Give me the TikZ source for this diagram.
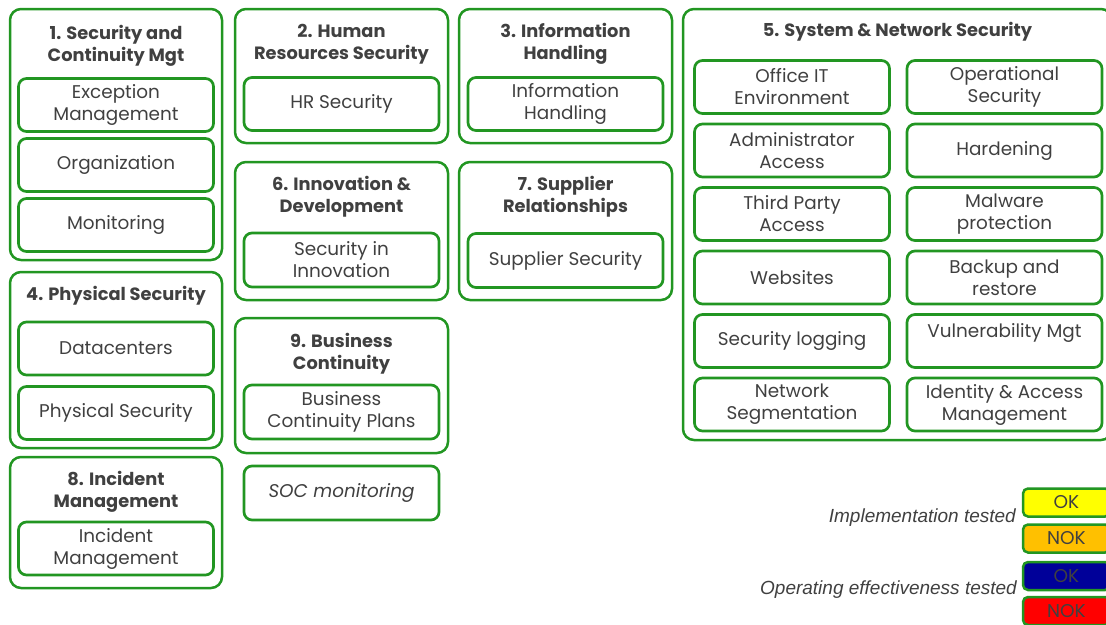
\documentclass[tikz,border=0pt]{standalone}
\usepackage{fontspec}
\setmainfont{Poppins}
\newfontfamily\legendfont{Liberation Sans}
\definecolor{boxgreen}{RGB}{34,150,34}
\definecolor{txtgray}{RGB}{64,64,64}
\definecolor{okyellow}{RGB}{255,255,0}
\definecolor{nokorange}{RGB}{255,192,0}
\definecolor{okblue}{RGB}{0,0,153}
\definecolor{nokred}{RGB}{255,0,0}
\begin{document}
\begin{tikzpicture}[
    x=1pt, y=-1pt,
    group/.style={rectangle, rounded corners=11pt, draw=boxgreen, line width=2.5pt},
    title/.style={align=center, font=\fontsize{17.8}{22}\selectfont\bfseries, text=txtgray, inner sep=0pt},
    item/.style={rectangle, rounded corners=8pt, draw=boxgreen, line width=2.7pt, minimum width=195pt, minimum height=53pt, align=center, font=\fontsize{18.4}{22}\selectfont, text=txtgray, inner sep=0pt},
    legendbox/.style={rectangle, rounded corners=5pt, draw=boxgreen, line width=2.5pt, minimum width=87pt, minimum height=28pt, font=\fontsize{18.5}{20}\selectfont, text=txtgray, inner sep=0pt},
    legendtext/.style={anchor=east, font=\legendfont\itshape\fontsize{19}{20}\selectfont, text=txtgray, inner sep=0pt}
]
    \useasboundingbox (0,0) rectangle (1106,624);

    % 1. Security and Continuity Mgt
    \node[group, minimum width=212pt, minimum height=251pt] (secmgt) at (116,134.5) {};
    \node[title] (secmgttitle) at (116,46) {1. Security and\\Continuity Mgt};
    \node[item] (exception) at (116,105) {Exception\\Management};
    \node[item] (organization) at (116,165) {Organization};
    \node[item] (monitoring) at (116,225) {Monitoring};

    % 2. Human Resources Security
    \node[group, minimum width=213pt, minimum height=134pt] (hrsec) at (341.5,76) {};
    \node[title] (hrsectitle) at (341.5,44) {2. Human\\Resources Security};
    \node[item] (hr) at (341.5,104) {HR Security};

    % 3. Information Handling
    \node[group, minimum width=213pt, minimum height=134pt] (info) at (565.5,76) {};
    \node[title] (infotitle) at (565.5,44) {3. Information\\Handling};
    \node[item] (infohandling) at (565.5,104) {Information\\Handling};

    % 6. Innovation & Development
    \node[group, minimum width=213pt, minimum height=138pt] (innov) at (341.5,231) {};
    \node[title] (innovtitle) at (341.5,197) {6. Innovation \&\\Development};
    \node[item, minimum height=54pt] (secinnov) at (341.5,260) {Security in\\Innovation};

    % 7. Supplier Relationships
    \node[group, minimum width=213pt, minimum height=138pt] (supplier) at (565.5,231) {};
    \node[title] (suppliertitle) at (565.5,197) {7. Supplier\\Relationships};
    \node[item, minimum height=54pt] (supsec) at (565.5,260.5) {Supplier Security};

    % 4. Physical Security
    \node[group, minimum width=212pt, minimum height=176pt] (phys) at (116,360) {};
    \node[title] (physttitle) at (116,296) {4. Physical Security};
    \node[item] (datacenters) at (116,348.5) {Datacenters};
    \node[item] (physsec) at (116,413) {Physical Security};

    % 8. Incident Management
    \node[group, minimum width=212pt, minimum height=131pt] (incident) at (116,522.5) {};
    \node[title] (incidenttitle) at (116,492) {8. Incident\\Management};
    \node[item] (incmgt) at (116,548.5) {Incident\\Management};

    % 9. Business Continuity
    \node[group, minimum width=213pt, minimum height=135pt] (bcm) at (341.5,385.5) {};
    \node[title] (bcmtitle) at (341.5,354) {9. Business\\Continuity};
    \node[item, minimum height=54pt] (bcp) at (341.5,412) {Business\\Continuity Plans};
    \node[item, minimum height=54pt, font=\fontsize{18.4}{22}\selectfont\itshape] (soc) at (341.5,493) {SOC monitoring};

    % 5. System & Network Security
    \node[group, minimum width=429pt, minimum height=431pt] (sysnet) at (897.5,224.5) {};
    \node[title] (sysnettitle) at (897.5,32) {5. System \& Network Security};
    \node[item] (officeit) at (792,87) {Office IT\\Environment};
    \node[item] (opsec) at (1004.5,87) {Operational\\Security};
    \node[item] (admin) at (792,150.5) {Administrator\\Access};
    \node[item] (hardening) at (1004.5,150.5) {Hardening};
    \node[item] (thirdparty) at (792,214) {Third Party\\Access};
    \node[item] (malware) at (1004.5,214) {Malware\\protection};
    \node[item] (websites) at (792,277.5) {Websites};
    \node[item] (backup) at (1004.5,277.5) {Backup and\\restore};
    \node[item] (logging) at (792,341) {Security logging};
    \node[item] (vuln) at (1004.5,341) {Vulnerability Mgt\\\mbox{}};
    \node[item] (netseg) at (792,404.5) {Network\\Segmentation};
    \node[item] (iam) at (1004.5,404.5) {Identity \& Access\\Management};

    % Legend
    \node[legendbox, fill=okyellow] (implok) at (1066.5,502.5) {OK};
    \node[legendbox, fill=nokorange] (implnok) at (1066.5,538.5) {NOK};
    \node[legendbox, fill=okblue] (opok) at (1066.5,576) {OK};
    \node[legendbox, fill=nokred] (opnok) at (1066.5,611) {NOK};
    \node[legendtext] (impllabel) at (1016,518) {Implementation tested};
    \node[legendtext] (oplabel) at (1017,590) {Operating effectiveness tested};

\end{tikzpicture}
\end{document}
